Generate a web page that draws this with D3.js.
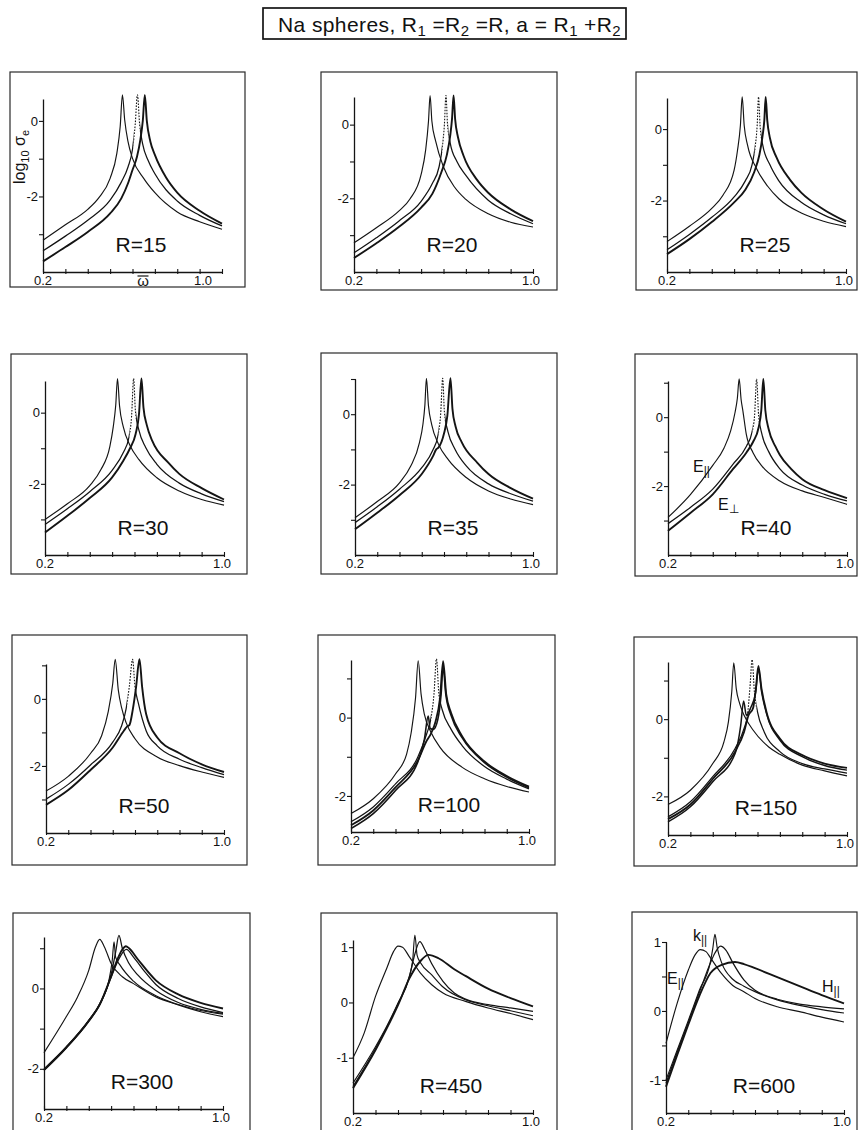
<!DOCTYPE html>
<html>
<head>
<meta charset="utf-8">
<script src="https://cdn.jsdelivr.net/npm/d3@7"></script>
<style>
  body { margin: 0; background: #fff; }
  svg { display: block; }
  text { font-family: "Liberation Sans", Arial, sans-serif; fill: #111; }
</style>
</head>
<body>
<svg id="chart" width="859" height="1130"></svg>
<script>
// ---- data: [omega-bar, log10 sigma_e] ----
const radii = [15, 20, 25, 30, 35, 40, 50, 100, 150, 300, 450, 600];
const xTicks = [0.2, 0.3, 0.4, 0.5, 0.6, 0.7, 0.8, 0.9, 1.0];
const xTickLabels = ["0.2", "1.0"];

const r15 = [
  [[0.2,-3.16],[0.3,-2.75],[0.4,-2.34],[0.45,-2.03],[0.5,-1.52],[0.53,-0.86],[0.545,-0.15],[0.555,0.69],[0.565,0.03],[0.58,-0.55],[0.6,-0.99],[0.65,-1.52],[0.7,-1.9],[0.8,-2.41],[0.9,-2.67],[1.0,-2.87]],
  [[0.2,-3.44],[0.3,-3.05],[0.4,-2.63],[0.5,-2.1],[0.55,-1.62],[0.58,-1.22],[0.6,-0.75],[0.612,-0.1],[0.622,0.69],[0.632,-0.1],[0.645,-0.6],[0.67,-1.05],[0.7,-1.4],[0.8,-2.12],[0.9,-2.5],[1.0,-2.78]],
  [[0.2,-3.72],[0.3,-3.34],[0.4,-2.94],[0.5,-2.45],[0.55,-2.05],[0.58,-1.65],[0.6,-1.3],[0.62,-0.95],[0.635,-0.5],[0.646,0.0],[0.655,0.69],[0.664,0.0],[0.68,-0.55],[0.7,-0.9],[0.75,-1.5],[0.8,-1.9],[0.9,-2.38],[1.0,-2.72]]
];
const r20 = [
  [[0.2,-3.21],[0.3,-2.8],[0.4,-2.35],[0.45,-2.02],[0.5,-1.35],[0.52,-0.7],[0.533,0.1],[0.54,0.79],[0.548,0.1],[0.565,-0.45],[0.6,-1.15],[0.65,-1.7],[0.7,-2.03],[0.8,-2.42],[0.9,-2.65],[1.0,-2.78]],
  [[0.2,-3.48],[0.3,-3.07],[0.4,-2.62],[0.5,-2.08],[0.55,-1.6],[0.58,-1.15],[0.595,-0.6],[0.604,0.0],[0.611,0.79],[0.618,0.0],[0.63,-0.5],[0.66,-1.0],[0.7,-1.38],[0.8,-2.05],[0.9,-2.42],[1.0,-2.69]],
  [[0.2,-3.62],[0.3,-3.22],[0.4,-2.78],[0.5,-2.25],[0.55,-1.88],[0.59,-1.3],[0.615,-0.82],[0.63,-0.3],[0.638,0.15],[0.645,0.79],[0.652,0.15],[0.665,-0.35],[0.69,-0.85],[0.75,-1.5],[0.8,-1.85],[0.9,-2.3],[1.0,-2.62]]
];
const r25 = [
  [[0.2,-3.15],[0.3,-2.72],[0.4,-2.22],[0.45,-1.85],[0.5,-1.15],[0.515,-0.6],[0.528,0.1],[0.536,0.9],[0.545,0.1],[0.56,-0.45],[0.6,-1.1],[0.65,-1.6],[0.7,-1.95],[0.8,-2.35],[0.9,-2.58],[1.0,-2.73]],
  [[0.2,-3.38],[0.3,-2.95],[0.4,-2.47],[0.5,-1.9],[0.55,-1.45],[0.58,-1.0],[0.595,-0.45],[0.603,0.1],[0.609,0.9],[0.616,0.1],[0.628,-0.45],[0.66,-1.0],[0.7,-1.45],[0.8,-2.05],[0.9,-2.4],[1.0,-2.65]],
  [[0.2,-3.5],[0.3,-3.08],[0.4,-2.6],[0.5,-2.05],[0.55,-1.7],[0.59,-1.2],[0.613,-0.72],[0.627,-0.2],[0.635,0.25],[0.641,0.9],[0.648,0.25],[0.66,-0.25],[0.69,-0.8],[0.75,-1.42],[0.8,-1.78],[0.9,-2.25],[1.0,-2.59]]
];
const r30 = [
  [[0.2,-3.0],[0.3,-2.56],[0.4,-2.05],[0.45,-1.6],[0.49,-0.95],[0.505,-0.4],[0.516,0.2],[0.524,0.96],[0.533,0.2],[0.55,-0.4],[0.58,-0.92],[0.62,-1.32],[0.7,-1.83],[0.8,-2.2],[0.9,-2.44],[1.0,-2.6]],
  [[0.2,-3.14],[0.3,-2.7],[0.4,-2.22],[0.5,-1.62],[0.55,-1.12],[0.575,-0.7],[0.587,-0.1],[0.596,0.96],[0.604,0.05],[0.62,-0.5],[0.65,-0.98],[0.7,-1.45],[0.8,-1.98],[0.9,-2.28],[1.0,-2.5]],
  [[0.2,-3.37],[0.3,-2.9],[0.4,-2.4],[0.5,-1.82],[0.55,-1.35],[0.58,-1.0],[0.605,-0.6],[0.62,-0.05],[0.631,0.96],[0.64,0.15],[0.655,-0.35],[0.68,-0.8],[0.75,-1.4],[0.8,-1.72],[0.9,-2.12],[1.0,-2.44]]
];
const r35 = [
  [[0.2,-2.94],[0.3,-2.48],[0.4,-1.95],[0.45,-1.48],[0.49,-0.8],[0.505,-0.3],[0.514,0.25],[0.521,1.02],[0.53,0.25],[0.545,-0.3],[0.575,-0.85],[0.62,-1.3],[0.7,-1.8],[0.8,-2.18],[0.9,-2.41],[1.0,-2.57]],
  [[0.2,-3.08],[0.3,-2.63],[0.4,-2.13],[0.5,-1.52],[0.55,-1.02],[0.573,-0.6],[0.585,0.0],[0.594,1.02],[0.602,0.05],[0.618,-0.5],[0.65,-1.0],[0.7,-1.47],[0.8,-1.98],[0.9,-2.26],[1.0,-2.47]],
  [[0.2,-3.27],[0.3,-2.8],[0.4,-2.3],[0.5,-1.7],[0.55,-1.2],[0.565,-1.0],[0.575,-0.95],[0.6,-0.55],[0.615,-0.05],[0.629,1.02],[0.638,0.15],[0.652,-0.35],[0.68,-0.8],[0.75,-1.38],[0.8,-1.7],[0.9,-2.1],[1.0,-2.4]]
];
const r40 = [
  [[0.2,-2.91],[0.3,-2.25],[0.4,-1.4],[0.45,-0.9],[0.48,-0.4],[0.5,0.15],[0.51,0.55],[0.518,1.11],[0.527,0.5],[0.535,0.17],[0.55,-0.5],[0.58,-1.03],[0.62,-1.42],[0.7,-1.85],[0.8,-2.14],[0.9,-2.33],[1.0,-2.53]],
  [[0.2,-3.09],[0.3,-2.62],[0.4,-2.09],[0.49,-1.37],[0.55,-0.85],[0.575,-0.45],[0.587,0.05],[0.596,1.11],[0.605,0.05],[0.62,-0.5],[0.65,-1.0],[0.7,-1.5],[0.8,-1.97],[0.9,-2.24],[1.0,-2.43]],
  [[0.2,-3.3],[0.3,-2.78],[0.4,-2.24],[0.49,-1.51],[0.55,-1.03],[0.58,-0.72],[0.605,-0.3],[0.617,0.2],[0.626,1.11],[0.635,0.2],[0.65,-0.35],[0.68,-0.85],[0.7,-1.1],[0.75,-1.5],[0.8,-1.8],[0.9,-2.12],[1.0,-2.35]]
];
const r50 = [
  [[0.2,-2.75],[0.3,-2.31],[0.4,-1.63],[0.45,-1.1],[0.48,-0.37],[0.5,0.46],[0.511,1.18],[0.525,0.26],[0.54,-0.27],[0.56,-0.71],[0.6,-1.19],[0.7,-1.73],[0.8,-1.99],[0.9,-2.18],[1.0,-2.34]],
  [[0.2,-2.99],[0.3,-2.55],[0.4,-1.97],[0.5,-1.29],[0.54,-0.8],[0.56,-0.3],[0.575,0.4],[0.589,1.18],[0.6,0.36],[0.615,-0.13],[0.65,-0.95],[0.7,-1.4],[0.8,-1.8],[0.9,-2.05],[1.0,-2.26]],
  [[0.2,-3.16],[0.3,-2.72],[0.4,-2.12],[0.5,-1.45],[0.55,-0.95],[0.565,-0.82],[0.575,-0.78],[0.59,-0.32],[0.605,0.36],[0.62,1.18],[0.632,0.36],[0.65,-0.45],[0.7,-1.15],[0.8,-1.62],[0.9,-1.95],[1.0,-2.18]]
];
const r100 = [
  [[0.2,-2.45],[0.3,-2.07],[0.4,-1.44],[0.45,-0.93],[0.47,-0.4],[0.49,0.5],[0.502,1.45],[0.515,0.6],[0.53,0.08],[0.56,-0.38],[0.6,-0.76],[0.7,-1.27],[0.8,-1.56],[0.9,-1.76],[1.0,-1.9]],
  [[0.2,-2.66],[0.3,-2.28],[0.4,-1.69],[0.5,-1.01],[0.54,-0.42],[0.56,0.0],[0.573,0.6],[0.584,1.5],[0.595,0.6],[0.61,0.2],[0.65,-0.3],[0.7,-0.72],[0.8,-1.25],[0.9,-1.57],[1.0,-1.82]],
  [[0.2,-2.75],[0.3,-2.37],[0.4,-1.78],[0.5,-1.1],[0.54,-0.59],[0.56,-0.4],[0.58,-0.1],[0.6,0.5],[0.614,1.44],[0.628,0.6],[0.65,0.12],[0.7,-0.48],[0.8,-1.12],[0.9,-1.49],[1.0,-1.76]],
  [[0.2,-2.83],[0.3,-2.45],[0.4,-1.86],[0.5,-1.14],[0.53,-0.55],[0.547,0.04],[0.556,-0.28],[0.57,-0.3],[0.59,-0.05],[0.605,0.6],[0.614,1.3],[0.626,0.6],[0.65,0.05],[0.7,-0.52],[0.8,-1.15],[0.9,-1.52],[1.0,-1.79]]
];
const r150 = [
  [[0.2,-2.21],[0.3,-1.84],[0.4,-1.15],[0.45,-0.59],[0.47,-0.07],[0.485,0.71],[0.494,1.46],[0.505,0.79],[0.52,0.41],[0.54,0.1],[0.58,-0.28],[0.65,-0.72],[0.7,-0.91],[0.8,-1.19],[0.9,-1.34],[1.0,-1.47]],
  [[0.2,-2.53],[0.3,-2.14],[0.4,-1.49],[0.5,-0.76],[0.54,-0.24],[0.555,0.1],[0.566,0.8],[0.576,1.54],[0.586,0.71],[0.6,0.19],[0.63,-0.33],[0.7,-0.84],[0.8,-1.15],[0.9,-1.29],[1.0,-1.4]],
  [[0.2,-2.59],[0.3,-2.21],[0.4,-1.55],[0.5,-0.84],[0.54,-0.33],[0.56,0.1],[0.58,0.28],[0.592,0.75],[0.604,1.38],[0.618,0.79],[0.64,0.19],[0.7,-0.5],[0.8,-0.93],[0.9,-1.15],[1.0,-1.26]],
  [[0.2,-2.66],[0.3,-2.27],[0.4,-1.62],[0.5,-0.89],[0.525,-0.16],[0.538,0.47],[0.55,0.1],[0.57,0.3],[0.592,0.7],[0.604,1.3],[0.618,0.72],[0.64,0.15],[0.7,-0.54],[0.8,-0.97],[0.9,-1.2],[1.0,-1.32]]
];
const r300 = [
  [[0.2,-1.6],[0.3,-0.7],[0.35,-0.21],[0.4,0.45],[0.43,1.03],[0.449,1.22],[0.47,1.03],[0.5,0.62],[0.55,0.29],[0.6,0.12],[0.7,-0.21],[0.8,-0.41],[0.9,-0.58],[1.0,-0.7]],
  [[0.2,-2.0],[0.3,-1.45],[0.4,-0.79],[0.45,-0.37],[0.49,0.2],[0.505,0.7],[0.513,1.16],[0.52,0.78],[0.54,0.58],[0.6,0.18],[0.7,-0.18],[0.8,-0.4],[0.9,-0.55],[1.0,-0.64]],
  [[0.2,-2.02],[0.3,-1.46],[0.4,-0.8],[0.45,-0.38],[0.5,0.35],[0.52,0.9],[0.535,1.32],[0.55,1.0],[0.58,0.62],[0.62,0.33],[0.7,-0.05],[0.8,-0.35],[0.9,-0.52],[1.0,-0.62]],
  [[0.2,-2.03],[0.3,-1.47],[0.4,-0.81],[0.45,-0.39],[0.5,0.3],[0.53,0.75],[0.55,0.97],[0.566,1.05],[0.58,1.0],[0.62,0.72],[0.7,0.2],[0.8,-0.15],[0.9,-0.36],[1.0,-0.5]],
  [[0.2,-2.04],[0.3,-1.48],[0.4,-0.82],[0.45,-0.4],[0.5,0.28],[0.53,0.68],[0.568,0.97],[0.6,0.78],[0.65,0.42],[0.7,0.1],[0.8,-0.25],[0.9,-0.46],[1.0,-0.6]]
];
const r450 = [
  [[0.2,-1.0],[0.25,-0.55],[0.3,0.11],[0.35,0.62],[0.38,0.92],[0.4,1.02],[0.42,1.0],[0.45,0.83],[0.5,0.53],[0.55,0.32],[0.6,0.17],[0.7,0.02],[0.8,-0.1],[0.9,-0.2],[1.0,-0.31]],
  [[0.2,-1.46],[0.3,-0.8],[0.35,-0.43],[0.4,-0.01],[0.45,0.47],[0.465,0.75],[0.475,1.22],[0.485,0.85],[0.5,0.72],[0.55,0.5],[0.6,0.28],[0.7,0.05],[0.8,-0.06],[0.9,-0.15],[1.0,-0.24]],
  [[0.2,-1.52],[0.3,-0.84],[0.35,-0.45],[0.4,-0.03],[0.45,0.45],[0.47,0.8],[0.497,1.1],[0.52,0.95],[0.55,0.7],[0.6,0.38],[0.65,0.17],[0.7,0.06],[0.8,-0.04],[0.9,-0.1],[1.0,-0.16]],
  [[0.2,-1.55],[0.3,-0.86],[0.35,-0.47],[0.4,-0.05],[0.45,0.43],[0.5,0.75],[0.535,0.86],[0.58,0.8],[0.65,0.6],[0.7,0.48],[0.8,0.25],[0.9,0.08],[1.0,-0.07]]
];
const r600 = [
  [[0.2,-0.47],[0.25,0.11],[0.3,0.59],[0.33,0.81],[0.354,0.89],[0.38,0.86],[0.4,0.77],[0.45,0.54],[0.5,0.37],[0.55,0.28],[0.6,0.18],[0.7,0.06],[0.8,-0.01],[0.9,-0.09],[1.0,-0.16]],
  [[0.2,-1.0],[0.25,-0.57],[0.3,-0.14],[0.35,0.3],[0.4,0.72],[0.41,0.9],[0.42,1.11],[0.43,0.92],[0.45,0.7],[0.5,0.46],[0.55,0.36],[0.6,0.28],[0.7,0.16],[0.8,0.08],[0.9,0.02],[1.0,-0.03]],
  [[0.2,-1.05],[0.25,-0.6],[0.3,-0.17],[0.35,0.27],[0.4,0.7],[0.42,0.84],[0.445,0.94],[0.47,0.88],[0.5,0.7],[0.55,0.45],[0.6,0.3],[0.65,0.22],[0.7,0.17],[0.8,0.1],[0.9,0.06],[1.0,0.03]],
  [[0.2,-1.1],[0.25,-0.64],[0.3,-0.2],[0.35,0.22],[0.4,0.55],[0.45,0.67],[0.51,0.71],[0.55,0.68],[0.6,0.62],[0.7,0.49],[0.8,0.36],[0.9,0.23],[1.0,0.11]]
];
const panelCurves = [r15, r20, r25, r30, r35, r40, r50, r100, r150, r300, r450, r600];

// y tick positions and which of them carry a label
const yTickSets = [
  [-3,-2,-1,0], [-3,-2,-1,0], [-3,-2,-1,0],
  [-3,-2,-1,0], [-3,-2,-1,0,1], [-3,-2,-1,0,1],
  [-3,-2,-1,0,1], [-2,-1,0,1], [-2,-1,0,1],
  [-2,-1,0,1], [-1,0,1], [-1,-0.5,0,0.5,1]
];
const yLabelSets = [
  [0,-2], [0,-2], [0,-2], [0,-2], [0,-2], [0,-2],
  [0,-2], [0,-2], [0,-2], [0,-2], [1,0,-1], [1,0,-1]
];

// ---- layout (pixels) ----
const thin = 1.15, mid = 1.25, bold = 1.9;
const panels = [
  {box:[10,72,245,287],  ax:43,  ex:222, ay:272,  ty:99,  ydom:[-4,0.58],   w:[thin,mid,bold], dash:[0.605,0.634], lastDx:-19},
  {box:[321,72,557,290], ax:354, ex:533, ay:272,  ty:97,  ydom:[-4,0.75],   w:[thin,mid,bold], dash:[0.594,0.622]},
  {box:[636,72,857,290], ax:667, ex:846, ay:272,  ty:98,  ydom:[-4,0.87],   w:[thin,mid,bold], dash:[0.592,0.62]},
  {box:[11,354,247,574], ax:45,  ex:224, ay:555,  ty:381, ydom:[-4,0.89],   w:[thin,mid,bold], dash:[0.578,0.607]},
  {box:[321,353,557,574],ax:355, ex:533, ay:555,  ty:379, ydom:[-4,1.0],    w:[thin,mid,bold], dash:[0.576,0.605]},
  {box:[635,354,857,576],ax:668, ex:847, ay:555,  ty:381, ydom:[-4,1.05],   w:[thin,mid,bold], dash:[0.578,0.607]},
  {box:[12,635,247,865], ax:46,  ex:224, ay:833,  ty:664, ydom:[-4,1.04],   w:[thin,mid,bold], dash:[0.565,0.604]},
  {box:[318,635,555,865],ax:351, ex:529, ay:832,  ty:660, ydom:[-2.92,1.47],w:[thin,mid,1.8,1.6], dash:[0.56,0.6]},
  {box:[634,637,857,866],ax:668, ex:847, ay:835,  ty:662, ydom:[-3,1.48],   w:[thin,mid,1.8,1.5], dash:[0.552,0.595]},
  {box:[13,913,250,1135],ax:44,  ex:223, ay:1109, ty:937, ydom:[-3,1.28],   w:[thin,thin,mid,bold,1.3]},
  {box:[321,913,557,1135],ax:353,ex:533, ay:1113, ty:940, ydom:[-2,1.13],   w:[thin,thin,mid,bold]},
  {box:[632,912,857,1135],ax:666,ex:844, ay:1113, ty:942, ydom:[-1.48,1.0], w:[thin,thin,mid,bold]}
];

const svg = d3.select("#chart");
const ink = "#141414";

// title
const tg = svg.append("g");
tg.append("rect").attr("x", 263).attr("y", 8).attr("width", 363).attr("height", 31)
  .attr("fill", "none").attr("stroke", ink).attr("stroke-width", 1.7);
const tt = tg.append("text").attr("x", 278).attr("y", 32).attr("font-size", 21).attr("letter-spacing", 0.4);
tt.append("tspan").text("Na spheres, R");
tt.append("tspan").attr("font-size", 15).attr("dy", 4).text("1");
tt.append("tspan").attr("dy", -4).text(" =R");
tt.append("tspan").attr("font-size", 15).attr("dy", 4).text("2");
tt.append("tspan").attr("dy", -4).text(" =R,  a = R");
tt.append("tspan").attr("font-size", 15).attr("dy", 4).text("1");
tt.append("tspan").attr("dy", -4).text(" +R");
tt.append("tspan").attr("font-size", 15).attr("dy", 4).text("2");

const defs = svg.append("defs");

panels.forEach((p, i) => {
  const g = svg.append("g");
  const x = d3.scaleLinear().domain([0.2, 1.0]).range([p.ax, p.ex]);
  const y = d3.scaleLinear().domain(p.ydom).range([p.ay, p.ty]);

  g.append("rect")
    .attr("x", p.box[0]).attr("y", p.box[1])
    .attr("width", p.box[2] - p.box[0]).attr("height", p.box[3] - p.box[1])
    .attr("fill", "none").attr("stroke", "#2a2a2a").attr("stroke-width", 1.2);

  // x axis, ticks cross the line
  const xa = g.append("g").attr("transform", `translate(0,${p.ay})`)
    .call(d3.axisBottom(x).tickValues(xTicks).tickSizeOuter(0).tickFormat(""));
  xa.select(".domain").attr("stroke", ink).attr("stroke-width", 1.3);
  xa.selectAll(".tick line").attr("y1", -3).attr("y2", 2).attr("stroke", ink).attr("stroke-width", 1.1);

  // y axis
  const ya = g.append("g").attr("transform", `translate(${p.ax},0)`)
    .call(d3.axisLeft(y).tickValues(yTickSets[i]).tickSizeOuter(0).tickFormat(""));
  ya.select(".domain").attr("stroke", ink).attr("stroke-width", 1.3);
  ya.selectAll(".tick line").attr("x1", -4).attr("x2", 1).attr("stroke", ink).attr("stroke-width", 1.1);

  // tick labels
  g.append("text").attr("x", x(0.2)).attr("y", p.ay + 13).attr("text-anchor", "middle")
    .attr("font-size", 13).text(xTickLabels[0]);
  g.append("text").attr("x", x(1.0) + (p.lastDx || -2)).attr("y", p.ay + 13).attr("text-anchor", "middle")
    .attr("font-size", 13).text(xTickLabels[1]);
  yLabelSets[i].forEach(v => {
    g.append("text").attr("x", p.ax - 5).attr("y", y(v)).attr("dy", "0.36em")
      .attr("text-anchor", "end").attr("font-size", 13).text(v < 0 ? "-" + Math.abs(v) : String(v));
  });

  // curves
  const line = d3.line().x(d => x(d[0])).y(d => y(d[1])).curve(d3.curveMonotoneX);
  const curves = panelCurves[i];
  curves.forEach((c, k) => {
    const width = p.w[k] || thin;
    if (k === 1 && p.dash) {
      const idS = `solid${i}`, idD = `dot${i}`;
      const top = p.box[1], h = p.box[3] - p.box[1];
      const cs = defs.append("clipPath").attr("id", idS);
      cs.append("rect").attr("x", 0).attr("y", top).attr("width", x(p.dash[0])).attr("height", h);
      cs.append("rect").attr("x", x(p.dash[1])).attr("y", top).attr("width", 900).attr("height", h);
      defs.append("clipPath").attr("id", idD).append("rect")
        .attr("x", x(p.dash[0])).attr("y", top).attr("width", x(p.dash[1]) - x(p.dash[0])).attr("height", h);
      g.append("path").attr("d", line(c)).attr("fill", "none").attr("stroke", ink)
        .attr("stroke-width", width).attr("clip-path", `url(#${idS})`);
      g.append("path").attr("d", line(c)).attr("fill", "none").attr("stroke", ink)
        .attr("stroke-width", 1.1).attr("stroke-dasharray", "1.6,1.4").attr("clip-path", `url(#${idD})`);
    } else {
      g.append("path").attr("d", line(c)).attr("fill", "none").attr("stroke", ink)
        .attr("stroke-width", width).attr("stroke-linejoin", "round");
    }
  });

  // panel label
  g.append("text").attr("x", p.ax + 98).attr("y", p.ay - 20).attr("text-anchor", "middle")
    .attr("font-size", 21).text("R=" + radii[i]);
});

// axis titles on the first panel
const yl = svg.append("text").attr("transform", "translate(25,184) rotate(-90)").attr("font-size", 16);
yl.append("tspan").text("log");
yl.append("tspan").attr("font-size", 11).attr("dy", 4).text("10");
yl.append("tspan").attr("dy", -4).text(" σ");
yl.append("tspan").attr("font-size", 11).attr("dy", 4).text("e");
svg.append("text").attr("x", 143).attr("y", 286).attr("text-anchor", "middle").attr("font-size", 15).text("ω");
svg.append("line").attr("x1", 137.5).attr("x2", 148.5).attr("y1", 276).attr("y2", 276).attr("stroke", ink).attr("stroke-width", 1.2);

// curve names on R=40 and R=600
function subLabel(px, py, main, sub, size) {
  const t = svg.append("text").attr("x", px).attr("y", py).attr("font-size", size);
  t.append("tspan").text(main);
  t.append("tspan").attr("font-size", size * 0.75).attr("dy", 3).text(sub);
}
subLabel(693, 472, "E", "||", 16);
subLabel(718, 510, "E", "⊥", 16);
subLabel(693, 941, "k", "||", 16);
subLabel(667, 984, "E", "||", 16);
subLabel(822, 992, "H", "||", 16);
</script>
</body>
</html>
